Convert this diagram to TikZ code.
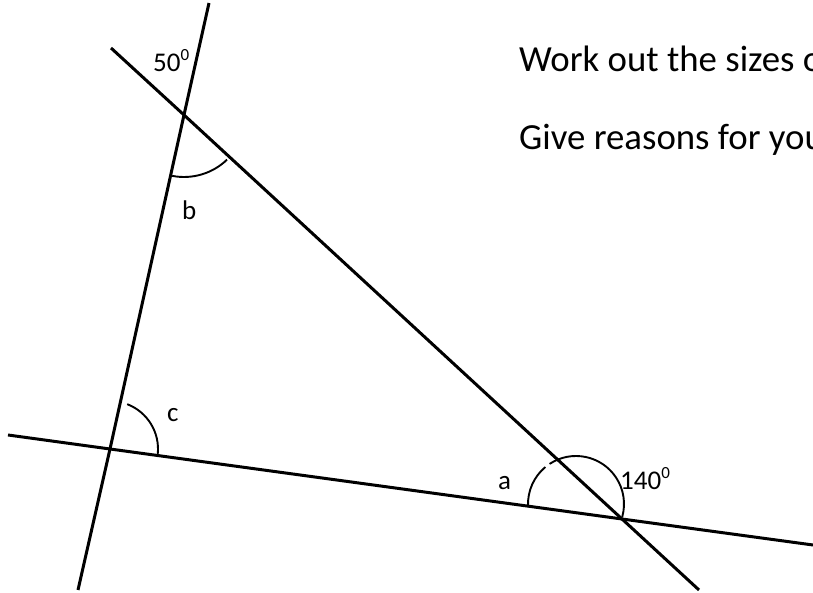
\documentclass[tikz,border=0pt]{standalone}
\usepackage{fontspec}
\setmainfont{Carlito}
\usepackage{tikz}
\usetikzlibrary{positioning,calc}

\newcommand{\degz}{\raisebox{0.42em}{\fontsize{17}{17}\selectfont 0}}

\begin{document}
\begin{tikzpicture}[x=1pt, y=1pt,
    ln/.style={line width=3pt},
    angarc/.style={line width=1.9pt},
    lbl/.style={anchor=base west, inner sep=0pt, font=\fontsize{27}{30}\selectfont},
    task/.style={anchor=base west, inner sep=0pt, font=\fontsize{36.8}{42}\selectfont}]
            \clip (0,0) rectangle (813,593);
            % Corners of the triangle
            \coordinate (P1) at (184,478);
            \coordinate (P2) at (110,144);
            \coordinate (P3) at (622,74);
            \coordinate (Pa) at (576,89);

            % Line ends
            \coordinate (A1) at (209,590);
            \coordinate (A2) at (78,3);
            \coordinate (B1) at (111,545);
            \coordinate (B2) at (699,3);
            \coordinate (C1) at (8,158);
            \coordinate (C2) at (813,48);

            % Lines
            \draw[ln] (A1) -- (P1) -- (P2) -- (A2);
            \draw[ln] (B1) -- (P1) -- (P3) -- (B2);
            \draw[ln] (C1) -- (P2) -- (P3) -- (C2);

            % Angle arcs
            \draw[angarc] (P1) ++(259:62) arc[start angle=259, end angle=314, radius=62];
            \draw[angarc] (P2) ++(-6:48) arc[start angle=-6, end angle=69, radius=48];
            \draw[angarc] (Pa) ++(182.4:48) arc[start angle=182.4, end angle=129.7, radius=48];
            \draw[angarc] (Pa) ++(123.4:48) arc[start angle=123.4, end angle=-15.5, radius=48];

            % Labels
            \node[lbl] (l50) at (153,521) {50\degz};
            \node[lbl] (lb) at (182,373) {b};
            \node[lbl] (lc) at (167,171) {c};
            \node[lbl] (la) at (498,103) {a};
            \node[lbl] (l140) at (620,103) {140\degz};

            % Task text
            \node[task] (t1) at (519,521) {Work out the sizes of};
            \node[task] (t2) at (519,443) {Give reasons for your};
        \end{tikzpicture}
\end{document}
